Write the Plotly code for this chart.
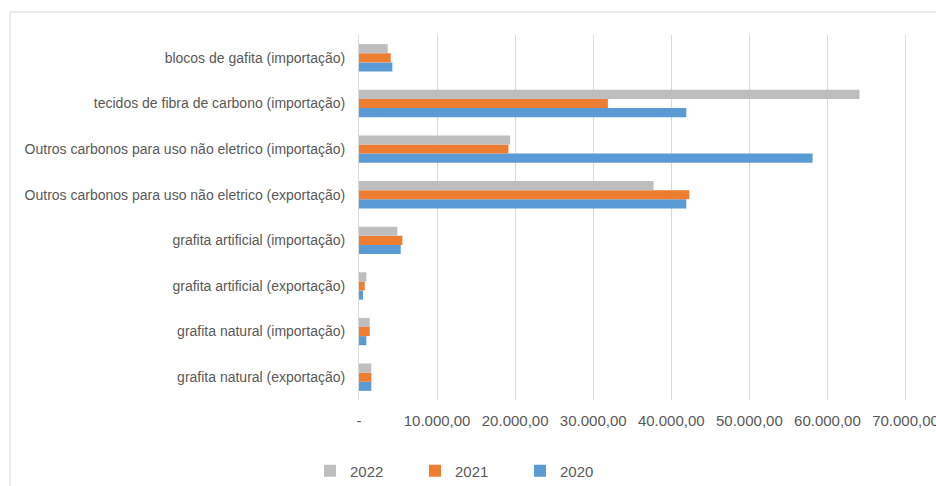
import plotly.graph_objects as go

categories = [
    "blocos de gafita (importação)",
    "tecidos de fibra de carbono (importação)",
    "Outros carbonos para uso não eletrico (importação)",
    "Outros carbonos para uso não eletrico (exportação)",
    "grafita artificial (importação)",
    "grafita artificial (exportação)",
    "grafita natural (importação)",
    "grafita natural (exportação)",
]
v2022 = [3680, 64100, 19360, 37730, 4910, 940, 1370, 1580]
v2021 = [4060, 31880, 19140, 42310, 5550, 730, 1370, 1580]
v2020 = [4270, 41920, 58100, 41920, 5340, 510, 940, 1580]

tick_vals = [0, 10000, 20000, 30000, 40000, 50000, 60000, 70000]
tick_text = ["-", "10.000,00", "20.000,00", "30.000,00", "40.000,00",
             "50.000,00", "60.000,00", "70.000,00"]

series = [("2020", v2020, "#5B9BD5"), ("2021", v2021, "#ED7D31"), ("2022", v2022, "#BEBEBE")]

fig = go.Figure()
for name, vals, col in series:
    fig.add_trace(go.Bar(
        y=categories, x=vals, name=name, orientation="h",
        marker=dict(color=col, line=dict(width=0)),
    ))

W, H = 936, 486
L, R, T, B = 359, 26, 35, 86
pw, ph = W - L - R, H - T - B
XMAX = 70000 * pw / (905.5 - L)

def px_x(p):
    return (p - L) / pw

def px_y(p):
    return 1 - (p - T) / ph

fig.update_layout(
    width=W, height=H,
    margin=dict(l=L, r=R, t=T, b=B, autoexpand=False),
    paper_bgcolor="white", plot_bgcolor="white",
    barmode="group", bargap=0.4, bargroupgap=0,
    font=dict(family="Liberation Sans", color="#595959"),
    legend=dict(
        orientation="h", traceorder="reversed",
        x=px_x(310), xanchor="left", y=px_y(471), yanchor="middle",
        font=dict(size=15, color="#595959"),
        entrywidth=60, entrywidthmode="pixels",
        itemwidth=30,
    ),
    xaxis=dict(
        range=[0, XMAX], tickvals=tick_vals, ticktext=tick_text,
        showgrid=True, gridcolor="#D9D9D9", gridwidth=1,
        zeroline=False, showline=False,
        tickfont=dict(size=15, color="#595959"),
        ticks="", ticklabelstandoff=10, ticklabeloverflow="allow",
    ),
    yaxis=dict(
        categoryorder="array", categoryarray=list(reversed(categories)),
        showline=True, linecolor="#D9D9D9", linewidth=1,
        showgrid=False, ticks="",
        tickfont=dict(size=14, color="#595959"),
        ticklabelstandoff=10,
    ),
    shapes=[dict(
        type="rect", xref="paper", yref="paper",
        x0=px_x(10), x1=px_x(1000), y0=px_y(560), y1=px_y(12),
        line=dict(color="#D9D9D9", width=1), fillcolor="rgba(0,0,0,0)",
        layer="below",
    )],
)

fig.write_html("out.html")
